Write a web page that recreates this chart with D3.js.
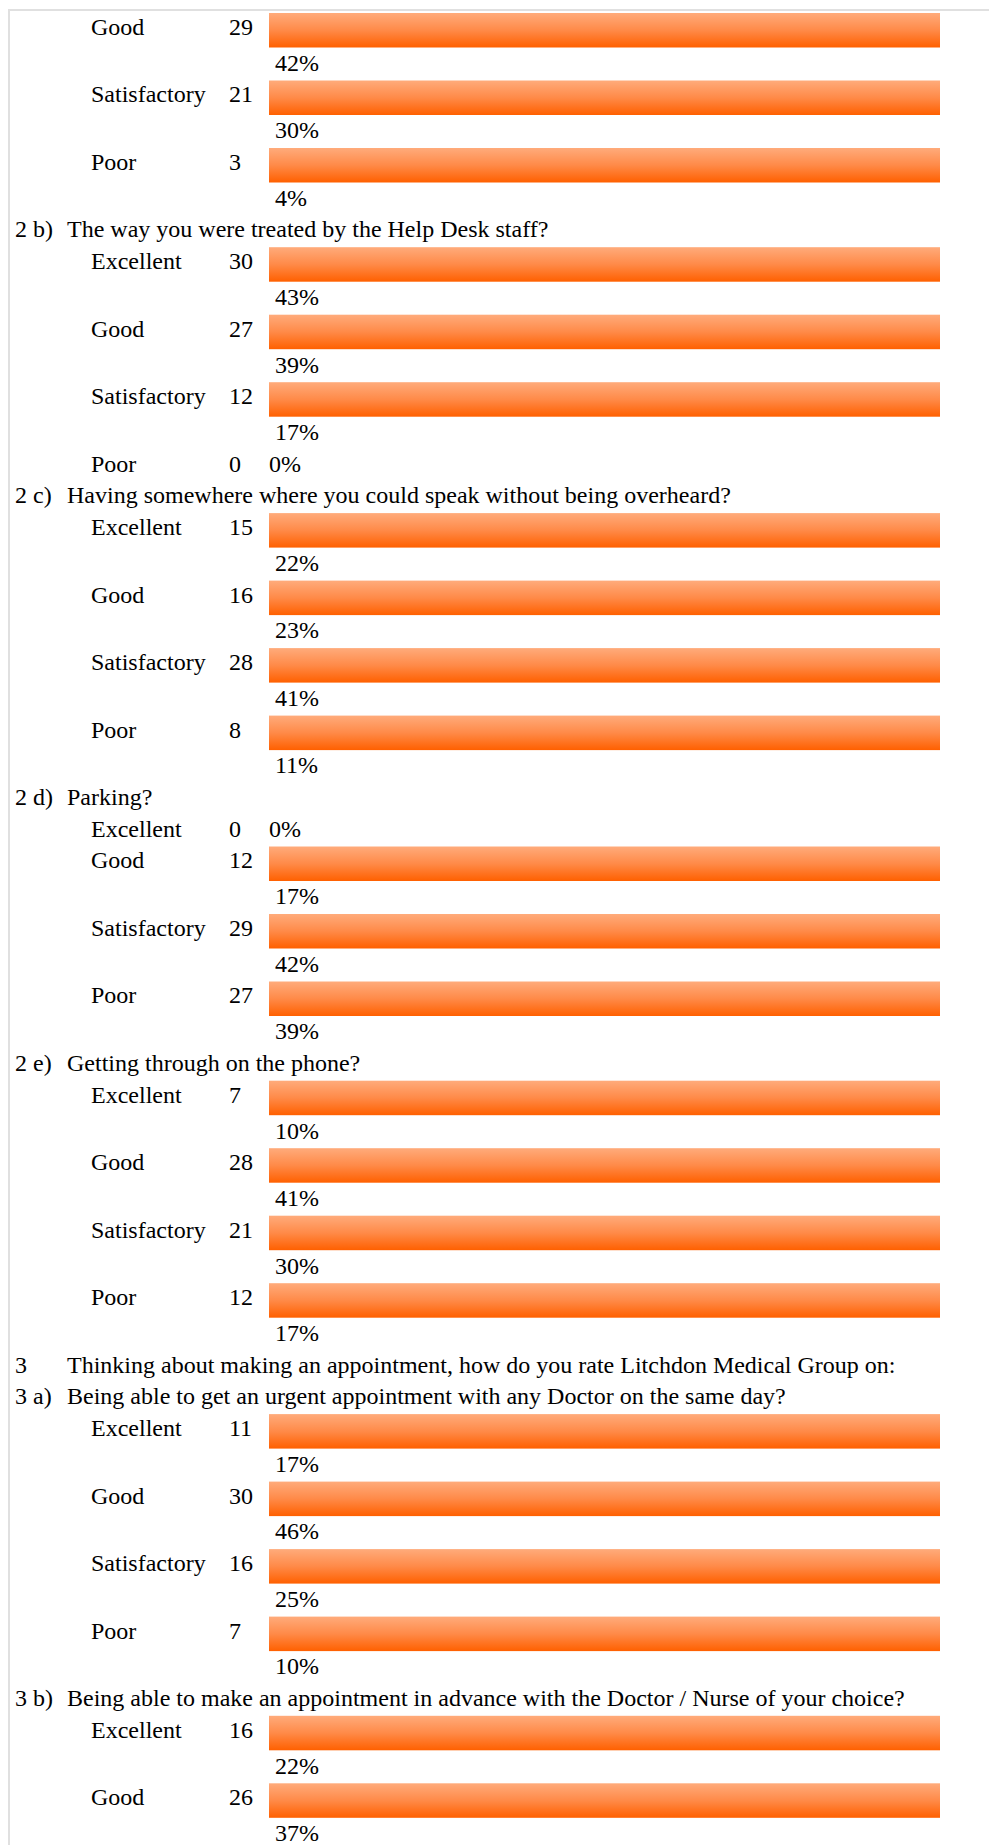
<!DOCTYPE html>
<html lang="en">
<head>
<meta charset="UTF-8">
<title>Patient Survey Results</title>
<script src="https://d3js.org/d3.v7.min.js"></script>
<style>
    body {
        margin: 0;
        background: #fff;
        overflow: hidden;
    }
    svg {
        display: block;
    }
    text {
        font-family: "Liberation Serif", "Times New Roman", serif;
        font-size: 24px;
        fill: #000;
    }
</style>
</head>
<body>
<svg id="chart"></svg>
<script>
// --- data read from the survey page ---
const sectionNums = ["2 a)", "2 b)", "2 c)", "2 d)", "2 e)", "3 a)", "3 b)"];
const sectionTitles = [
    "", // 2 a) title is above the visible part of the page
    "The way you were treated by the Help Desk staff?",
    "Having somewhere where you could speak without being overheard?",
    "Parking?",
    "Getting through on the phone?",
    "Being able to get an urgent appointment with any Doctor on the same day?",
    "Being able to make an appointment in advance with the Doctor / Nurse of your choice?"
];
const ratingLabels = ["Excellent", "Good", "Satisfactory", "Poor"];

// null = row not visible in the picture
const responseCounts = [
    [null, 29, 21, 3],
    [30, 27, 12, 0],
    [15, 16, 28, 8],
    [0, 12, 29, 27],
    [7, 28, 21, 12],
    [11, 30, 16, 7],
    [16, 26, null, null]
];
const responsePercents = [
    [null, 42, 30, 4],
    [43, 39, 17, 0],
    [22, 23, 41, 11],
    [0, 17, 42, 39],
    [10, 41, 30, 17],
    [17, 46, 25, 10],
    [22, 37, null, null]
];

// group heading that sits before 3 a)
const partHeadingNum = "3";
const partHeadingText = "Thinking about making an appointment, how do you rate Litchdon Medical Group on:";
const partHeadingBefore = 5;

// --- layout ---
const width = 989, height = 1845;
const textRowH = 31.7;   // one line of text
const barRowH = 35.8;    // row holding a bar
const startY = 11.8;

const svg = d3.select("#chart").attr("width", width).attr("height", height);

const defs = svg.append("defs");
const grad = defs.append("linearGradient")
    .attr("id", "barFill")
    .attr("x1", 0).attr("y1", 0).attr("x2", 0).attr("y2", 1);
grad.append("stop").attr("offset", "0%").attr("stop-color", "#ffab7b");
grad.append("stop").attr("offset", "50%").attr("stop-color", "#ff8a48");
grad.append("stop").attr("offset", "100%").attr("stop-color", "#ff6000");

// page frame (top and left edge)
svg.append("rect").attr("x", 8).attr("y", 9).attr("width", width - 8).attr("height", 2).attr("fill", "#e0e0e0");
svg.append("rect").attr("x", 8).attr("y", 9).attr("width", 2).attr("height", height - 9).attr("fill", "#e0e0e0");

// flatten everything into rows
const rows = [];
sectionNums.forEach((num, i) => {
    if (i === partHeadingBefore) rows.push({ kind: "heading", num: partHeadingNum, text: partHeadingText });
    if (sectionTitles[i]) rows.push({ kind: "heading", num: num, text: sectionTitles[i] });
    ratingLabels.forEach((label, j) => {
        const c = responseCounts[i][j];
        if (c == null) return;
        rows.push({ kind: c > 0 ? "bar" : "zero", label: label, count: c, pct: responsePercents[i][j] });
    });
});

const rowHeight = d => d.kind === "bar" ? barRowH + textRowH : textRowH;
const offsets = [0, ...d3.cumsum(rows, rowHeight)];
rows.forEach((d, i) => { d.y = startY + offsets[i]; });

// bars all run the full cell width on the page; zero counts get no bar
const x = d3.scaleLinear().domain([0, 1]).range([269, 940]);
const barLen = d3.scaleThreshold().domain([1]).range([0, 1]);

const g = svg.append("g");

const row = g.selectAll("g.row")
    .data(rows)
    .join("g")
    .attr("class", "row")
    .attr("transform", d => `translate(0,${d.y})`);

const baseline = 23.2;

// headings
const heads = row.filter(d => d.kind === "heading");
heads.append("text").attr("x", 15).attr("y", baseline).text(d => d.num);
heads.append("text").attr("x", 67).attr("y", baseline).text(d => d.text);

// rating rows
const items = row.filter(d => d.kind !== "heading");
items.append("text").attr("x", 91).attr("y", baseline).text(d => d.label);
items.append("text").attr("x", 229).attr("y", baseline).text(d => d.count);

items.filter(d => d.kind === "bar")
    .append("rect")
    .attr("x", x(0))
    .attr("y", 1.2)
    .attr("width", d => x(barLen(d.count)) - x(0))
    .attr("height", 34.5)
    .attr("fill", "url(#barFill)");

items.append("text")
    .attr("x", d => d.kind === "bar" ? x(0) + 6 : x(0))
    .attr("y", d => d.kind === "bar" ? barRowH + baseline : baseline)
    .text(d => d.pct + "%");
</script>
</body>
</html>
